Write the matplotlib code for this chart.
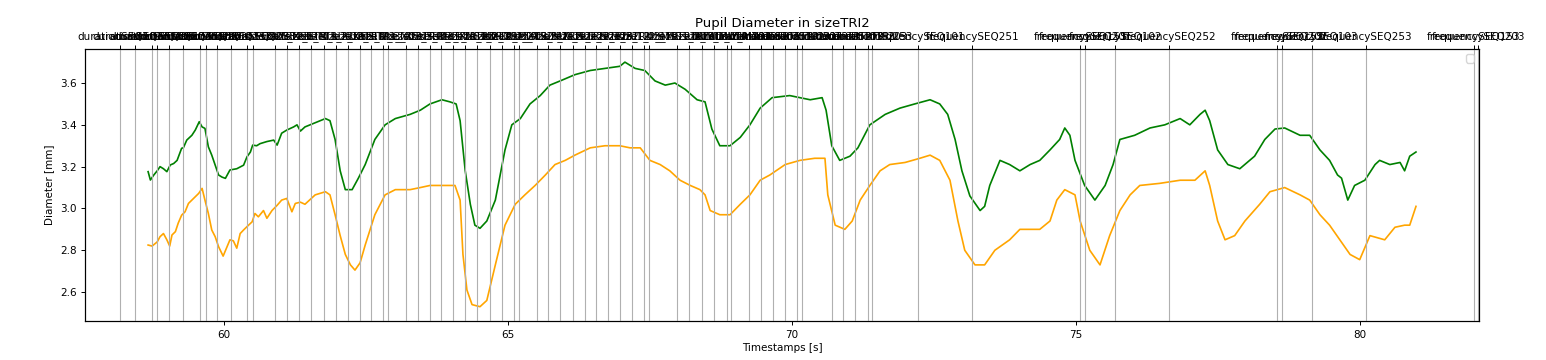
import matplotlib
matplotlib.use('Agg')
import matplotlib.pyplot as plt

# pupil traces (time in s, diameter in mm)
green_t = [58.67, 58.71, 58.77, 58.83, 58.88, 58.94, 59.00, 59.06, 59.12, 59.18,
           59.26, 59.29, 59.35, 59.44, 59.50, 59.57, 59.62, 59.67, 59.73, 59.79,
           59.85, 59.91, 59.97, 60.03, 60.11, 60.23, 60.35, 60.41, 60.47, 60.51,
           60.58, 60.64, 60.76, 60.88, 60.94, 61.02, 61.11, 61.23, 61.29, 61.35,
           61.43, 61.61, 61.79, 61.87, 61.96, 62.05, 62.14, 62.26, 62.37, 62.49,
           62.66, 62.84, 63.02, 63.28, 63.46, 63.63, 63.84, 63.98, 64.09, 64.16,
           64.25, 64.34, 64.42, 64.51, 64.63, 64.78, 64.95, 65.07, 65.22, 65.39,
           65.57, 65.74, 65.92, 66.18, 66.45, 66.71, 66.97, 67.06, 67.24, 67.41,
           67.59, 67.77, 67.94, 68.12, 68.33, 68.47, 68.59, 68.73, 68.91, 69.09,
           69.26, 69.44, 69.65, 69.96, 70.32, 70.53, 70.60, 70.70, 70.84, 71.02,
           71.16, 71.37, 71.64, 71.90, 72.16, 72.43, 72.60, 72.74, 72.87, 72.99,
           73.13, 73.31, 73.39, 73.48, 73.66, 73.83, 74.01, 74.19, 74.36, 74.54,
           74.71, 74.80, 74.89, 74.98, 75.15, 75.33, 75.51, 75.65, 75.77, 76.03,
           76.30, 76.56, 76.83, 77.00, 77.18, 77.27, 77.35, 77.49, 77.67, 77.88,
           78.14, 78.32, 78.50, 78.67, 78.94, 79.11, 79.29, 79.46, 79.60, 79.67,
           79.78, 79.90, 80.08, 80.26, 80.34, 80.52, 80.70, 80.78, 80.87, 80.98]
green_d = [3.176, 3.136, 3.16, 3.18, 3.20, 3.19, 3.176, 3.208, 3.215, 3.23,
           3.288, 3.29, 3.327, 3.35, 3.375, 3.415, 3.39, 3.383, 3.295, 3.255,
           3.208, 3.16, 3.15, 3.144, 3.184, 3.19, 3.207, 3.247, 3.27, 3.303,
           3.30, 3.31, 3.32, 3.327, 3.303, 3.36, 3.375, 3.39, 3.40, 3.37,
           3.39, 3.41, 3.43, 3.42, 3.33, 3.18, 3.09, 3.09, 3.145, 3.21,
           3.33, 3.40, 3.43, 3.45, 3.47, 3.50, 3.52, 3.51, 3.50, 3.42,
           3.18, 3.02, 2.92, 2.905, 2.94, 3.04, 3.28, 3.40, 3.43, 3.50,
           3.54, 3.59, 3.61, 3.64, 3.66, 3.67, 3.68, 3.70, 3.67, 3.66,
           3.61, 3.59, 3.60, 3.57, 3.52, 3.51, 3.38, 3.30, 3.30, 3.34,
           3.40, 3.48, 3.53, 3.54, 3.52, 3.53, 3.47, 3.30, 3.23, 3.25,
           3.29, 3.40, 3.45, 3.48, 3.50, 3.52, 3.50, 3.45, 3.33, 3.18,
           3.06, 2.99, 3.01, 3.11, 3.23, 3.21, 3.18, 3.21, 3.23, 3.28,
           3.33, 3.385, 3.35, 3.23, 3.11, 3.04, 3.11, 3.21, 3.33, 3.35,
           3.385, 3.40, 3.43, 3.40, 3.45, 3.47, 3.42, 3.28, 3.21, 3.19,
           3.25, 3.33, 3.38, 3.385, 3.35, 3.35, 3.28, 3.23, 3.16, 3.145,
           3.04, 3.11, 3.135, 3.21, 3.23, 3.21, 3.22, 3.18, 3.25, 3.27]

orange_t = [58.67, 58.74, 58.83, 58.88, 58.94, 59.00, 59.05, 59.09, 59.15, 59.20,
            59.26, 59.32, 59.38, 59.47, 59.56, 59.62, 59.67, 59.73, 59.79, 59.85,
            59.91, 59.99, 60.06, 60.11, 60.17, 60.23, 60.29, 60.35, 60.41, 60.50,
            60.55, 60.61, 60.70, 60.76, 60.85, 60.94, 61.02, 61.11, 61.20, 61.26,
            61.35, 61.43, 61.61, 61.79, 61.87, 61.96, 62.05, 62.14, 62.23, 62.31,
            62.40, 62.49, 62.66, 62.84, 63.02, 63.28, 63.46, 63.63, 63.90, 64.07,
            64.16, 64.21, 64.28, 64.37, 64.51, 64.63, 64.78, 64.95, 65.13, 65.30,
            65.48, 65.66, 65.83, 66.01, 66.18, 66.45, 66.71, 66.97, 67.15, 67.33,
            67.50, 67.68, 67.85, 68.03, 68.21, 68.38, 68.47, 68.56, 68.73, 68.91,
            69.09, 69.26, 69.44, 69.61, 69.88, 70.14, 70.40, 70.58, 70.63, 70.76,
            70.93, 71.06, 71.20, 71.37, 71.55, 71.72, 71.99, 72.25, 72.43, 72.60,
            72.78, 72.92, 73.04, 73.22, 73.39, 73.57, 73.83, 74.01, 74.36, 74.54,
            74.66, 74.80, 74.98, 75.07, 75.24, 75.42, 75.59, 75.77, 75.95, 76.12,
            76.47, 76.83, 77.09, 77.27, 77.35, 77.49, 77.62, 77.79, 77.97, 78.23,
            78.41, 78.67, 78.94, 79.11, 79.29, 79.46, 79.64, 79.82, 79.99, 80.17,
            80.43, 80.61, 80.78, 80.87, 80.98]
orange_d = [2.825, 2.82, 2.84, 2.865, 2.88, 2.85, 2.82, 2.873, 2.889, 2.93,
            2.968, 2.984, 3.024, 3.048, 3.072, 3.096, 3.04, 2.976, 2.897, 2.865,
            2.817, 2.772, 2.817, 2.85, 2.845, 2.81, 2.88, 2.897, 2.913, 2.936,
            2.976, 2.96, 2.99, 2.953, 2.99, 3.015, 3.04, 3.048, 2.984, 3.024,
            3.03, 3.02, 3.065, 3.08, 3.065, 2.97, 2.87, 2.78, 2.73, 2.705,
            2.74, 2.825, 2.97, 3.065, 3.09, 3.09, 3.10, 3.11, 3.11, 3.11,
            3.04, 2.78, 2.61, 2.54, 2.53, 2.56, 2.73, 2.92, 3.02, 3.065,
            3.11, 3.16, 3.21, 3.23, 3.255, 3.29, 3.30, 3.30, 3.29, 3.29,
            3.23, 3.21, 3.18, 3.135, 3.11, 3.09, 3.065, 2.99, 2.97, 2.97,
            3.02, 3.065, 3.135, 3.16, 3.21, 3.23, 3.24, 3.24, 3.065, 2.92,
            2.90, 2.94, 3.04, 3.11, 3.18, 3.21, 3.22, 3.24, 3.255, 3.23,
            3.135, 2.94, 2.80, 2.73, 2.73, 2.80, 2.85, 2.90, 2.90, 2.94,
            3.04, 3.09, 3.065, 2.94, 2.80, 2.73, 2.87, 2.99, 3.065, 3.11,
            3.12, 3.135, 3.135, 3.18, 3.11, 2.94, 2.85, 2.87, 2.94, 3.02,
            3.08, 3.10, 3.065, 3.04, 2.97, 2.92, 2.85, 2.78, 2.755, 2.87,
            2.85, 2.91, 2.92, 2.92, 3.01]

# event markers (s) and their names
event_t = [58.17, 58.44, 58.74, 58.82, 59.03, 59.29, 59.58, 59.68, 59.88, 60.12,
           60.41, 60.51, 60.91, 61.12, 61.33, 61.54, 61.76, 61.97, 62.18, 62.40,
           62.60, 62.81, 62.90, 63.21, 63.42, 63.63, 63.83, 64.04, 64.25, 64.46,
           64.68, 64.89, 65.10, 65.20, 65.51, 65.71, 65.92, 66.14, 66.35, 66.56,
           66.77, 66.98, 67.19, 67.40, 67.49, 67.98, 68.19, 68.41, 68.62, 68.85,
           68.93, 69.24, 69.45, 69.66, 69.87, 70.08, 70.18, 70.70, 70.90, 71.11,
           71.33, 71.41, 72.22, 73.17, 75.07, 75.16, 75.69, 76.64, 78.54, 78.62,
           79.15, 80.10, 82.00, 82.08]
event_labels = [
    'durationSEQ101', 'durationSEQ151', 'durationSEQ201', 'durationSEQ251',
    'durationSEQ102', 'durationSEQ152', 'durationSEQ202', 'durationSEQ252',
    'durationSEQ103', 'durationSEQ153', 'durationSEQ203', 'durationSEQ253',
    'sizeTRI1_XS', 'sizeTRI1_S', 'sizeTRI1_M', 'sizeTRI1_L', 'sizeTRI1_XL',
    'sizeTRI2_XS', 'sizeTRI2_S', 'sizeTRI2_M', 'sizeTRI2_L', 'sizeTRI2_XL',
    'sizeTRI3_XS', 'sizeTRI3_S', 'sizeTRI3_M', 'sizeTRI3_L', 'sizeTRI3_XL',
    'sizeTRI1_XS2', 'sizeTRI1_M2', 'sizeTRI1_XL2', 'sizeTRI2_XS2', 'sizeTRI2_M2',
    'sizeTRI2_XL2', 'sizeTRI3_XS2', 'sizeTRI3_M2', 'sizeTRI3_XL2', 'sizeTRI1_S2',
    'sizeTRI1_L2', 'sizeTRI2_S2', 'sizeTRI2_L2', 'sizeTRI3_S2', 'sizeTRI3_L2',
    'sizeTRI1_MS', 'sizeTRI2_MS', 'sizeTRI3_MS', 'sizeTRI1_ML', 'sizeTRI2_ML',
    'sizeTRI3_ML', 'sizeTRI1_MX', 'sizeTRI2_MX',
    'durationTRI101', 'durationTRI151', 'durationTRI201', 'durationTRI251',
    'durationTRI102', 'durationTRI152', 'durationTRI202', 'durationTRI252',
    'durationTRI103', 'durationTRI153', 'durationTRI203', 'durationTRI253',
    'frequencySEQ101', 'frequencySEQ251', 'frequencySEQ151', 'frequencySEQ201',
    'frequencySEQ102', 'frequencySEQ252', 'frequencySEQ152', 'frequencySEQ202',
    'frequencySEQ103', 'frequencySEQ253', 'frequencySEQ153', 'frequencySEQ203']

fs = 7.5
fig = plt.figure(figsize=(15.46, 3.6), dpi=100)
ax = fig.add_axes([0.055, 0.108, 0.9017, 0.756])
ax.plot(green_t, green_d, color='green', lw=1.2)
ax.plot(orange_t, orange_d, color='orange', lw=1.2)
ax.set_xlim(57.56, 82.09)
ax.set_ylim(2.461, 3.763)
ax.set_xticks([60, 65, 70, 75, 80])
ax.set_yticks([2.6, 2.8, 3.0, 3.2, 3.4, 3.6])
ax.tick_params(labelsize=fs, length=2.7, width=0.7)
ax.set_xlabel('Timestamps [s]', fontsize=fs, labelpad=2)
ax.set_ylabel('Diameter [mm]', fontsize=fs, labelpad=4)
for s in ax.spines.values():
    s.set_linewidth(0.8)

ax2 = ax.twiny()
ax2.set_xlim(ax.get_xlim())
ax2.set_xticks(event_t)
ax2.set_xticklabels(event_labels)
ax2.tick_params(labelsize=fs, length=2.7, width=0.7, pad=2)
ax2.grid(True, color='#b0b0b0', lw=0.8)
ax2.legend(loc='upper right', fontsize=fs)
ax2.set_title('Pupil Diameter in sizeTRI2', fontsize=9.5, pad=16)

fig.savefig('out.png', dpi=100)
